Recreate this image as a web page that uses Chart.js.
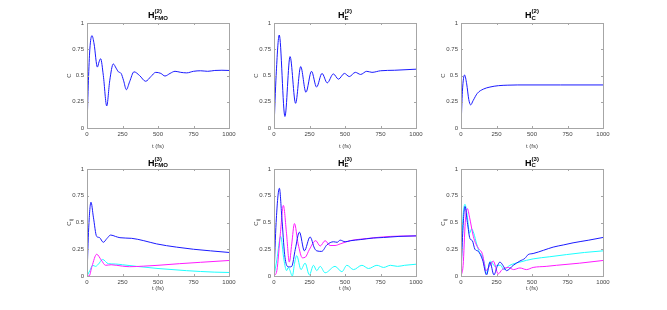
<!DOCTYPE html>
<html>
<head>
<meta charset="utf-8">
<script src="https://cdn.jsdelivr.net/npm/chart.js@4.4.0/dist/chart.umd.min.js"></script>
<style>
  html, body { margin: 0; padding: 0; background: #fff; }
  #wrap { position: relative; width: 667px; height: 310px; overflow: hidden; }
  #wrap canvas { position: absolute; left: 0; top: 0; }
</style>
</head>
<body>
<div id="wrap">
  <canvas id="c1" width="667" height="310"></canvas>
  <canvas id="c2" width="667" height="310"></canvas>
  <canvas id="c3" width="667" height="310"></canvas>
  <canvas id="c4" width="667" height="310"></canvas>
  <canvas id="c5" width="667" height="310"></canvas>
  <canvas id="c6" width="667" height="310"></canvas>
</div>
<script>
// tick labels
var xTicks = [0, 250, 500, 750, 1000];
var yTicks = [0, 0.25, 0.5, 0.75, 1];

// H_FMO^(2)
var tFmo2 = [0, 10, 20, 35, 50, 73, 85, 96, 115, 139, 160, 185, 205, 221, 240, 258, 277, 300, 331, 370, 413, 450, 484, 520, 549, 585, 620, 660, 702, 750, 800, 850, 900, 950, 1000];
var cFmo2 = [0, 0.45, 0.75, 0.88, 0.8, 0.58, 0.63, 0.66, 0.5, 0.21, 0.45, 0.61, 0.57, 0.535, 0.52, 0.45, 0.365, 0.44, 0.535, 0.5, 0.445, 0.49, 0.53, 0.52, 0.495, 0.52, 0.54, 0.53, 0.525, 0.54, 0.545, 0.54, 0.548, 0.55, 0.548];

// H_E^(2)
var tE2 = [0, 15, 37, 77, 113, 152, 188, 225, 264, 300, 338, 375, 418, 454, 496, 530, 573, 610, 653, 690, 750, 850, 1000];
var cE2 = [0, 0.5, 0.885, 0.11, 0.68, 0.235, 0.585, 0.34, 0.54, 0.39, 0.52, 0.43, 0.515, 0.465, 0.52, 0.49, 0.53, 0.51, 0.54, 0.53, 0.545, 0.55, 0.56];

// H_C^(2)
var tC2 = [0, 10, 25, 40, 55, 68, 85, 115, 157, 204, 263, 330, 400, 500, 700, 1000];
var cC2 = [0, 0.35, 0.505, 0.42, 0.27, 0.22, 0.26, 0.33, 0.37, 0.39, 0.403, 0.408, 0.41, 0.41, 0.41, 0.41];

// H_FMO^(3)
var tFmo3b = [0, 12, 28, 45, 68, 87, 115, 140, 167, 200, 232, 315, 400, 490, 630, 750, 870, 1000];
var cFmo3b = [0, 0.45, 0.69, 0.55, 0.37, 0.36, 0.315, 0.35, 0.383, 0.37, 0.358, 0.352, 0.33, 0.3, 0.27, 0.25, 0.235, 0.22];
var tFmo3m = [0, 15, 35, 68, 100, 131, 170, 250, 300, 400, 500, 650, 800, 1000];
var cFmo3m = [0, 0, 0.09, 0.203, 0.15, 0.1, 0.105, 0.092, 0.087, 0.092, 0.1, 0.115, 0.128, 0.145];
var tFmo3c = [0, 20, 40, 60, 80, 110, 150, 200, 250, 350, 500, 700, 900, 1000];
var cFmo3c = [0, 0.05, 0.1, 0.09, 0.11, 0.155, 0.115, 0.112, 0.105, 0.09, 0.07, 0.05, 0.036, 0.033];

// H_E^(3)
var tE3b = [0, 15, 38, 55, 75, 94, 110, 125, 150, 179, 214, 254, 285, 301, 336, 372, 419, 445, 466, 501, 540, 607, 700, 772, 880, 1000];
var cE3b = [0, 0.5, 0.82, 0.55, 0.2, 0.09, 0.085, 0.09, 0.25, 0.41, 0.235, 0.365, 0.26, 0.235, 0.23, 0.29, 0.32, 0.315, 0.335, 0.32, 0.33, 0.34, 0.355, 0.36, 0.37, 0.375];
var tE3m = [0, 20, 45, 66, 88, 108, 125, 144, 170, 200, 220, 250, 294, 325, 360, 395, 430, 466, 536, 654, 819, 1000];
var cE3m = [0, 0.05, 0.4, 0.66, 0.4, 0.13, 0.3, 0.49, 0.3, 0.17, 0.175, 0.25, 0.33, 0.28, 0.33, 0.285, 0.285, 0.3, 0.33, 0.35, 0.37, 0.375];
var tE3c = [0, 20, 47, 70, 89, 100, 110, 129, 145, 160, 190, 219, 249, 278, 301, 325, 360, 430, 478, 513, 560, 619, 666, 725, 772, 820, 870, 920, 1000];
var cE3c = [0, 0.15, 0.37, 0.15, 0.05, 0.08, 0.06, 0, 0.12, 0.19, 0.06, 0.12, 0.01, 0.1, 0.05, 0.09, 0.03, 0.09, 0.04, 0.1, 0.06, 0.1, 0.07, 0.1, 0.08, 0.1, 0.09, 0.1, 0.11];

// H_C^(3)
var tC3b = [0, 12, 28, 45, 63, 80, 98, 122, 152, 180, 204, 232, 255, 274, 295, 320, 368, 415, 450, 473, 508, 580, 649, 720, 789, 900, 1000];
var cC3b = [0, 0.4, 0.65, 0.5, 0.35, 0.33, 0.25, 0.23, 0.15, 0.01, 0.13, 0.01, 0.09, 0.13, 0.1, 0.05, 0.1, 0.14, 0.165, 0.2, 0.21, 0.24, 0.27, 0.29, 0.31, 0.335, 0.36];
var tC3m = [0, 15, 30, 45, 60, 87, 105, 122, 152, 175, 200, 227, 262, 290, 333, 370, 415, 461, 508, 600, 672, 836, 1000];
var cC3m = [0, 0.1, 0.5, 0.63, 0.55, 0.37, 0.3, 0.26, 0.2, 0.05, 0.09, 0.14, 0.02, 0.06, 0.08, 0.06, 0.075, 0.06, 0.08, 0.09, 0.1, 0.12, 0.145];
var tC3c = [0, 10, 28, 45, 60, 75, 90, 110, 130, 145, 165, 180, 208, 239, 260, 280, 300, 344, 415, 508, 625, 742, 870, 1000];
var cC3c = [0, 0.45, 0.67, 0.55, 0.4, 0.44, 0.4, 0.3, 0.22, 0.2, 0.12, 0.02, 0.14, 0.09, 0.1, 0.1, 0.06, 0.1, 0.13, 0.16, 0.18, 0.2, 0.22, 0.235];

var BLUE = "#1a1aff", MAGENTA = "#ff1aff", CYAN = "#1affff";
var FONT = "'Liberation Sans', Arial, sans-serif";
var YW = 22, XH = 12;

function pts(t, c) {
  return t.map(function (v, i) { return { x: v, y: c[i] }; });
}

// draws the box, inward ticks, titles and axis labels (MATLAB look)
var decor = {
  id: "decor",
  afterDraw: function (chart, args, o) {
    var ctx = chart.ctx, a = chart.chartArea;
    var xs = chart.scales.x, ys = chart.scales.y;
    ctx.save();
    ctx.strokeStyle = "#a6a6a6";
    ctx.lineWidth = 1;
    ctx.strokeRect(Math.round(a.left) + 0.5, Math.round(a.top) + 0.5, Math.round(a.right - a.left), Math.round(a.bottom - a.top));
    ctx.beginPath();
    xTicks.forEach(function (v) {
      var p = Math.round(xs.getPixelForValue(v)) + 0.5;
      ctx.moveTo(p, a.bottom); ctx.lineTo(p, a.bottom - 2);
      ctx.moveTo(p, a.top); ctx.lineTo(p, a.top + 2);
    });
    yTicks.forEach(function (v) {
      var p = Math.round(ys.getPixelForValue(v)) + 0.5;
      ctx.moveTo(a.left, p); ctx.lineTo(a.left + 2, p);
      ctx.moveTo(a.right, p); ctx.lineTo(a.right - 2, p);
    });
    ctx.stroke();

    // title H^(sup)_(sub)
    ctx.fillStyle = "#000";
    ctx.textBaseline = "alphabetic";
    ctx.font = "bold 9px " + FONT;
    var wH = ctx.measureText("H").width;
    ctx.font = "bold 6px " + FONT;
    var wS = ctx.measureText(o.sup).width, wB = ctx.measureText(o.sub).width;
    var total = wH + Math.max(wS, wB);
    var cx = (a.left + a.right) / 2, x0 = cx - total / 2, by = a.top - o.titleGap;
    ctx.font = "bold 9px " + FONT;
    ctx.fillText("H", x0, by);
    ctx.font = "bold 6px " + FONT;
    ctx.fillText(o.sup, x0 + wH, by - 5);
    ctx.fillText(o.sub, x0 + wH, by + 1.5);

    // x label
    ctx.fillStyle = "#444";
    ctx.font = "6px " + FONT;
    ctx.textAlign = "center";
    ctx.textBaseline = "middle";
    ctx.fillText("t (fs)", cx, a.bottom + o.xlabGap);

    // y label, rotated
    ctx.translate(a.left - 18, (a.top + a.bottom) / 2);
    ctx.rotate(-Math.PI / 2);
    ctx.font = "6px " + FONT;
    var wc = ctx.measureText("C").width;
    ctx.font = "4.5px " + FONT;
    var wi = o.ysub ? ctx.measureText(o.ysub).width : 0;
    ctx.textAlign = "left";
    ctx.textBaseline = "alphabetic";
    var sx = -(wc + wi) / 2;
    ctx.font = "6px " + FONT;
    ctx.fillText("C", sx, 2);
    if (o.ysub) {
      ctx.font = "4.5px " + FONT;
      ctx.fillText(o.ysub, sx + wc, 4);
    }
    ctx.restore();
  }
};

function makeChart(id, box, series, sup, sub, ysub, titleGap, xlabGap) {
  new Chart(document.getElementById(id), {
    type: "line",
    data: {
      datasets: series.map(function (s) {
        return {
          data: pts(s[0], s[1]),
          borderColor: s[2],
          borderWidth: 1,
          pointRadius: 0,
          fill: false,
          cubicInterpolationMode: "monotone"
        };
      })
    },
    options: {
      responsive: false,
      animation: false,
      events: [],
      layout: {
        padding: { left: box.l - YW, right: 667 - box.r, top: box.t, bottom: 310 - box.b - XH }
      },
      plugins: {
        legend: { display: false },
        tooltip: { enabled: false },
        decor: { sup: sup, sub: sub, ysub: ysub, titleGap: titleGap, xlabGap: xlabGap }
      },
      scales: {
        x: {
          type: "linear", min: 0, max: 1000,
          afterFit: function (s) { s.height = XH; },
          afterBuildTicks: function (s) { s.ticks = xTicks.map(function (v) { return { value: v }; }); },
          grid: { display: false, drawTicks: false },
          border: { display: false },
          ticks: {
            color: "#444", font: { size: 6, family: FONT }, padding: 3, maxRotation: 0, autoSkip: false,
            callback: function (v) { return String(v); }
          }
        },
        y: {
          type: "linear", min: 0, max: 1,
          afterFit: function (s) { s.width = YW; },
          afterBuildTicks: function (s) { s.ticks = yTicks.map(function (v) { return { value: v }; }); },
          grid: { display: false, drawTicks: false },
          border: { display: false },
          ticks: {
            color: "#444", font: { size: 6, family: FONT }, padding: 3,
            callback: function (v) { return String(v); }
          }
        }
      }
    },
    plugins: [decor]
  });
}

makeChart("c1", { l: 87, r: 229, t: 23, b: 128 }, [[tFmo2, cFmo2, BLUE]], "(2)", "FMO", "", 5, 18);
makeChart("c2", { l: 274, r: 416, t: 23, b: 128 }, [[tE2, cE2, BLUE]], "(2)", "E", "", 5, 18);
makeChart("c3", { l: 461, r: 603, t: 23, b: 128 }, [[tC2, cC2, BLUE]], "(2)", "C", "", 5, 18);
makeChart("c4", { l: 87, r: 229, t: 169, b: 276 }, [[tFmo3b, cFmo3b, BLUE], [tFmo3m, cFmo3m, MAGENTA], [tFmo3c, cFmo3c, CYAN]], "(3)", "FMO", "ij", 3.5, 12);
makeChart("c5", { l: 274, r: 416, t: 169, b: 276 }, [[tE3b, cE3b, BLUE], [tE3m, cE3m, MAGENTA], [tE3c, cE3c, CYAN]], "(3)", "E", "ij", 3.5, 12);
makeChart("c6", { l: 461, r: 603, t: 169, b: 276 }, [[tC3b, cC3b, BLUE], [tC3m, cC3m, MAGENTA], [tC3c, cC3c, CYAN]], "(3)", "C", "ij", 3.5, 12);
</script>
</body>
</html>
